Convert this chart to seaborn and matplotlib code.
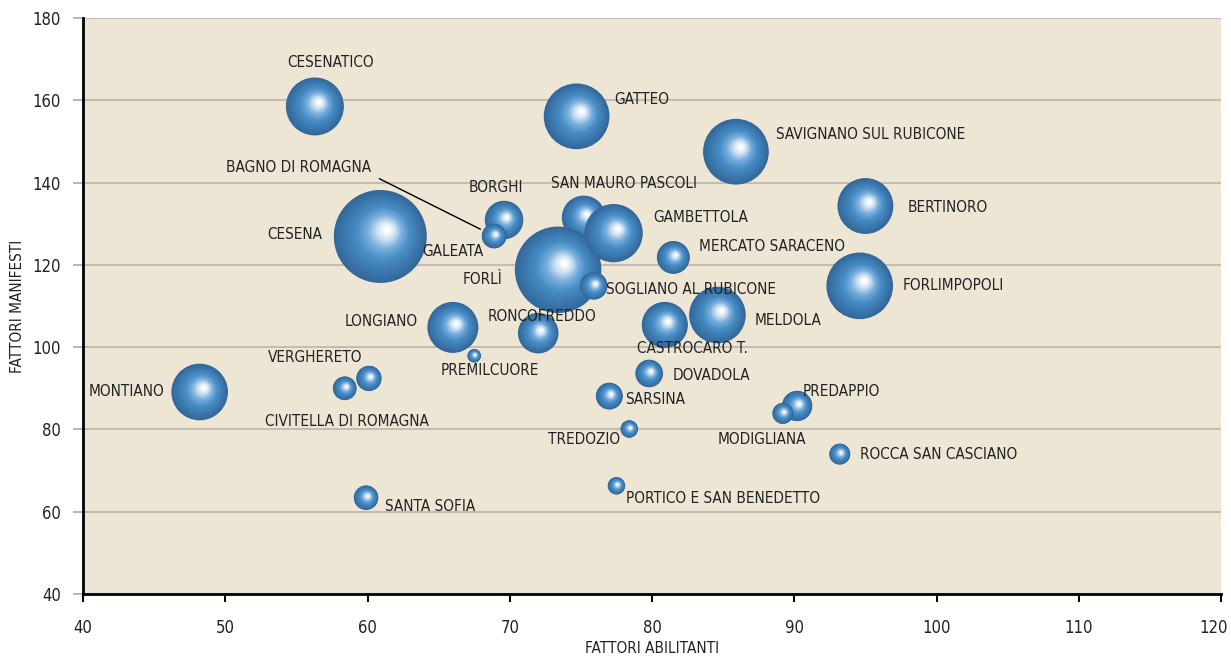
import numpy as np
import pandas as pd
import seaborn as sns
from matplotlib import pyplot as plt
from matplotlib.colors import LinearSegmentedColormap
from matplotlib.transforms import ScaledTranslation

# comuni in ordine di disegno (i successivi coprono i precedenti)
comuni = [
    'MONTIANO', 'CIVITELLA DI ROMAGNA', 'VERGHERETO', 'SANTA SOFIA', 'CESENATICO',
    'CESENA', 'LONGIANO', 'PREMILCUORE', 'BORGHI', 'BAGNO DI ROMAGNA', 'GALEATA',
    'RONCOFREDDO', 'GATTEO', 'SAN MAURO PASCOLI', 'FORLÌ', 'GAMBETTOLA',
    'SOGLIANO AL RUBICONE', 'SARSINA', 'PORTICO E SAN BENEDETTO', 'TREDOZIO',
    'DOVADOLA', 'CASTROCARO T.', 'MERCATO SARACENO', 'MELDOLA',
    'SAVIGNANO SUL RUBICONE', 'PREDAPPIO', 'MODIGLIANA', 'ROCCA SAN CASCIANO',
    'FORLIMPOPOLI', 'BERTINORO',
]
fattori_abilitanti = [
    48.2, 58.4, 60.1, 59.9, 56.3,
    60.9, 66.0, 67.5, 69.6, 68.9, 68.9,
    72.0, 74.7, 75.2, 73.4, 77.3,
    75.9, 77.0, 77.5, 78.4,
    79.8, 80.9, 81.5, 84.6,
    85.9, 90.2, 89.2, 93.2,
    94.6, 95.0,
]
fattori_manifesti = [
    89.1, 90.0, 92.4, 63.4, 158.5,
    126.9, 104.8, 97.9, 130.9, 127.0, 127.0,
    103.4, 156.1, 131.5, 118.8, 127.7,
    114.9, 88.1, 66.3, 80.1,
    93.6, 105.4, 121.8, 107.8,
    147.5, 85.7, 83.9, 74.0,
    114.9, 134.3,
]
dimensione = [
    80, 14, 16, 15, 84,
    216, 65, 4.5, 37, 15, 15,
    41, 108, 48, 187, 85,
    19, 18, 7.6, 7.6,
    19, 53, 27, 80,
    108, 23, 11, 11,
    111, 78,
]

# posizione delle etichette rispetto alla bolla (pixel), allineamento orizzontale
etichette = {
    'MONTIANO': (-35, 0, 'right'),
    'CIVITELLA DI ROMAGNA': (2, -33, 'center'),
    'VERGHERETO': (-54, 21, 'center'),
    'SANTA SOFIA': (19, -9, 'left'),
    'CESENATICO': (16, 44, 'center'),
    'CESENA': (-58, 2, 'right'),
    'LONGIANO': (-35, 6, 'right'),
    'PREMILCUORE': (16, -15, 'center'),
    'BORGHI': (-8, 33, 'center'),
    'BAGNO DI ROMAGNA': (-123, 69, 'right'),
    'GALEATA': (-11, -15, 'right'),
    'RONCOFREDDO': (4, 17, 'center'),
    'GATTEO': (38, 17, 'left'),
    'SAN MAURO PASCOLI': (40, 34, 'center'),
    'FORLÌ': (-56, -10, 'right'),
    'GAMBETTOLA': (40, 16, 'left'),
    'SOGLIANO AL RUBICONE': (12, -4, 'left'),
    'SARSINA': (16, -3, 'left'),
    'PORTICO E SAN BENEDETTO': (10, -13, 'left'),
    'TREDOZIO': (-9, -10, 'right'),
    'DOVADOLA': (23, -2, 'left'),
    'CASTROCARO T.': (-28, -24, 'left'),
    'MERCATO SARACENO': (26, 11, 'left'),
    'MELDOLA': (37, -5, 'left'),
    'SAVIGNANO SUL RUBICONE': (40, 17, 'left'),
    'PREDAPPIO': (6, 14, 'left'),
    'MODIGLIANA': (-21, -26, 'center'),
    'ROCCA SAN CASCIANO': (20, 0, 'left'),
    'FORLIMPOPOLI': (43, 0, 'left'),
    'BERTINORO': (42, -1, 'left'),
}

df = pd.DataFrame({
    'comune': comuni,
    'abilitanti': fattori_abilitanti,
    'manifesti': fattori_manifesti,
    'dimensione': dimensione,
})
df['raggio'] = np.sqrt(df['dimensione'] * 10)  # raggio in pixel

sns.set_style('white')
plt.rcParams['font.family'] = ['DejaVu Sans']
plt.rcParams['font.stretch'] = 'condensed'

fig = plt.figure(figsize=(12.31, 6.57), dpi=100)
ax = fig.add_axes([83 / 1231, 63 / 657, 1138 / 1231, 576 / 657])
ax.set_facecolor('#eee6d5')
ax.set_xlim(40, 120)
ax.set_ylim(40, 180)

tr = ax.transData
px_x = tr.transform((1, 0))[0] - tr.transform((0, 0))[0]
px_y = tr.transform((0, 1))[1] - tr.transform((0, 0))[1]

sfera = LinearSegmentedColormap.from_list('sfera', [
    (0.0, '#33679a'), (0.2, '#3c79af'), (0.42, '#488dc6'),
    (0.62, '#78aedc'), (0.8, '#cfe2f4'), (0.94, '#ffffff'), (1.0, '#ffffff')])

n = 45
t = np.arange(n) / n
for _, row in df.iterrows():
    r = row['raggio']
    rr = r * (1 - t)
    xs = row['abilitanti'] + 0.16 * r * t / px_x
    ys = row['manifesti'] + 0.16 * r * t / px_y
    sns.scatterplot(x=xs, y=ys, hue=t, palette=sfera, hue_norm=(0, 1),
                    s=(2 * rr * 0.72) ** 2, linewidth=0, legend=False, ax=ax)

for _, row in df.iterrows():
    dx, dy, ha = etichette[row['comune']]
    if row['comune'] == 'BAGNO DI ROMAGNA':
        ax.annotate(row['comune'], (row['abilitanti'], row['manifesti']),
                    xytext=(dx, dy), textcoords='offset pixels', ha=ha, va='center',
                    fontsize=11, color='#222222', zorder=5,
                    arrowprops=dict(arrowstyle='-', color='black', lw=1,
                                    relpos=(1, 0), shrinkA=4, shrinkB=11))
    else:
        ax.annotate(row['comune'], (row['abilitanti'], row['manifesti']),
                    xytext=(dx, dy), textcoords='offset pixels', ha=ha, va='center',
                    fontsize=11, color='#222222', zorder=5)

ax.set_xticks(range(40, 121, 10))
ax.set_yticks(range(40, 181, 20))
ax.yaxis.grid(True, color='#c2bcb1', lw=1.5)
ax.xaxis.grid(False)
ax.set_axisbelow(True)
for s in ['top', 'right']:
    ax.spines[s].set_visible(False)
ax.spines['left'].set_color('black')
ax.spines['left'].set_linewidth(2)
ax.spines['bottom'].set_color('black')
ax.spines['bottom'].set_linewidth(2)
ax.tick_params(axis='y', color='#aaaaaa', length=7, width=1.2, pad=9,
               labelsize=12, labelcolor='#222222', left=True)
ax.tick_params(axis='x', color='black', length=6, width=1.5, pad=12,
               labelsize=12, labelcolor='#222222', bottom=True)
# l'ultima etichetta sta sul bordo della figura: spostata appena a sinistra
last = ax.get_xticklabels()[-1]
last.set_transform(last.get_transform() + ScaledTranslation(-5 / 72, 0, fig.dpi_scale_trans))
ax.set_xlabel('FATTORI ABILITANTI', fontsize=11, color='#222222', labelpad=3)
ax.set_ylabel('FATTORI MANIFESTI', fontsize=11, color='#222222')
ax.yaxis.set_label_coords(-0.051, 0.5)

fig.savefig('out.png', dpi=100)
